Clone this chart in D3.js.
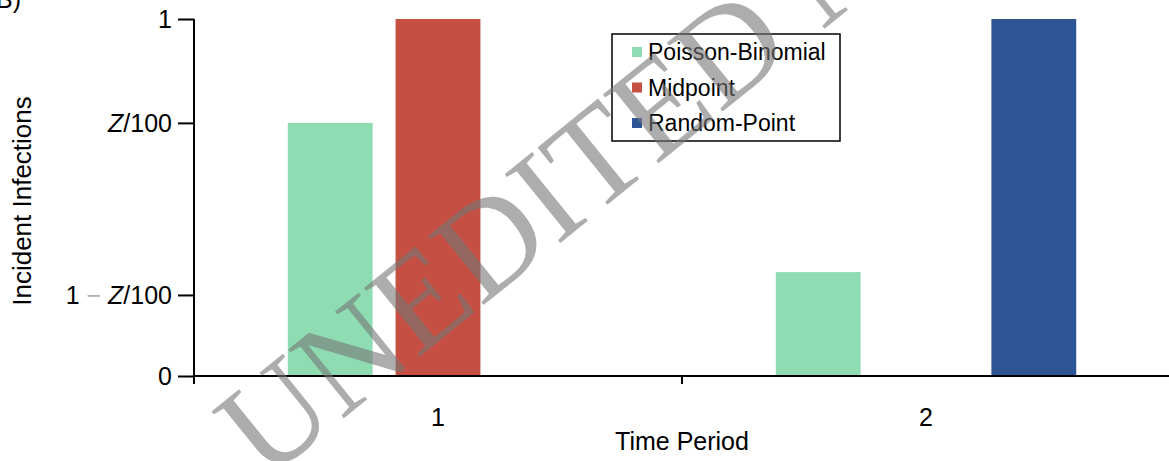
<!DOCTYPE html>
<html>
<head>
<meta charset="utf-8">
<script src="https://cdn.jsdelivr.net/npm/d3@7"></script>
<style>
  body { margin: 0; background: #fff; }
  text { font-family: "Liberation Sans", Arial, sans-serif; fill: #000; }
</style>
</head>
<body>
<div id="canvas"></div>
<script>
"use strict"

/* Data */
let periods = ["1", "2"];
let seriesNames = ["Poisson-Binomial", "Midpoint", "Random-Point"];
// bar heights on a 0..1 schematic scale (Z/100 ~ 0.71)
let poissonBinomial = [0.709, 0.291];
let midpoint = [1, 0];
let randomPoint = [0, 1];
let yTickValues = [0, 0.227, 0.709, 1];
let yTickLabels = ["0", "1 \u2212 Z/100", "Z/100", "1"];

/* Drawing config */
let svgWidth = 1169;
let svgHeight = 461;
let plotLeft = 194, plotRight = 1170, plotTop = 19, plotBottom = 376;
let colors = ["#8fdcb2", "#c44f42", "#2e5596"];

let svg = d3.select("#canvas")
    .append("svg")
    .attr("width", svgWidth)
    .attr("height", svgHeight);

let xScale = d3.scaleBand()
    .domain(periods)
    .range([plotLeft, plotRight])
    .padding(0);

let xSub = d3.scaleBand()
    .domain(seriesNames)
    .range([0, xScale.bandwidth()])
    .paddingInner(0.213)
    .paddingOuter(0.87);

let yScale = d3.scaleLinear()
    .domain([0, 1])
    .range([plotBottom, plotTop]);

let colorScale = d3.scaleOrdinal()
    .domain(seriesNames)
    .range(colors);

// build rows from the arrays
let allSeries = [poissonBinomial, midpoint, randomPoint];
let bars = [];
periods.forEach(function (p, i) {
    seriesNames.forEach(function (s, j) {
        bars.push({ period: p, series: s, value: allSeries[j][i] });
    });
});

svg.selectAll("rect.bar")
    .data(bars.filter(function (d) { return d.value > 0; }))
    .join("rect")
    .attr("class", "bar")
    .attr("x", function (d) { return xScale(d.period) + xSub(d.series); })
    .attr("width", xSub.bandwidth())
    .attr("y", function (d) { return yScale(d.value); })
    .attr("height", function (d) { return yScale(0) - yScale(d.value); })
    .attr("fill", function (d) { return colorScale(d.series); });

/* y axis */
let yAxis = d3.axisLeft(yScale)
    .tickValues(yTickValues)
    .tickSize(16)
    .tickPadding(6)
    .tickSizeOuter(0)
    .tickFormat("");

let yG = svg.append("g")
    .attr("transform", "translate(" + plotLeft + ",0)")
    .call(yAxis);
yG.select(".domain").remove();
yG.selectAll(".tick line").attr("stroke", "#000").attr("stroke-width", 2);

// tick labels with italic Z and grey minus
yG.selectAll(".tick").each(function (d, i) {
    let label = yTickLabels[i];
    let t = d3.select(this).append("text")
        .attr("x", -22)
        .attr("dy", "0.35em")
        .attr("text-anchor", "end")
        .style("font-size", "25px");
    if (label.indexOf("Z") < 0) {
        t.text(label);
        return;
    }
    if (label.indexOf("\u2212") >= 0) {
        t.append("tspan").text("1 ");
        t.append("tspan").style("fill", "#b0b0b0").text("\u2212");
        t.append("tspan").text(" ");
    }
    t.append("tspan").style("font-style", "italic").text("Z");
    t.append("tspan").text("/100");
});

svg.append("line")
    .attr("x1", plotLeft).attr("x2", plotLeft)
    .attr("y1", yScale(1)).attr("y2", yScale(0) + 8)
    .attr("stroke", "#000")
    .attr("stroke-width", 2);

/* x axis */
let xAxis = d3.axisBottom(xScale)
    .tickSize(0)
    .tickSizeOuter(0)
    .tickPadding(32);

let xG = svg.append("g")
    .attr("transform", "translate(0," + plotBottom + ")")
    .call(xAxis);
xG.select(".domain").remove();
xG.selectAll(".tick text")
    .style("font-size", "25px")
    .attr("fill", "#000");

svg.append("line")
    .attr("x1", plotLeft).attr("x2", plotRight)
    .attr("y1", plotBottom).attr("y2", plotBottom)
    .attr("stroke", "#000")
    .attr("stroke-width", 2);

// tick between the two periods
svg.append("line")
    .attr("x1", xScale("2")).attr("x2", xScale("2"))
    .attr("y1", plotBottom).attr("y2", plotBottom + 8)
    .attr("stroke", "#000")
    .attr("stroke-width", 2);

/* axis titles */
svg.append("text")
    .attr("x", xScale("2"))
    .attr("y", 450)
    .attr("text-anchor", "middle")
    .style("font-size", "25px")
    .text("Time Period");

svg.append("text")
    .attr("transform", "translate(31,201) rotate(-90)")
    .attr("text-anchor", "middle")
    .style("font-size", "26px")
    .text("Incident Infections");

// panel letter, cut off at the top-left corner
svg.append("text")
    .attr("x", -4)
    .attr("y", 8)
    .style("font-size", "25px")
    .text("B)");

/* legend */
let legendX = 612, legendY = 34;
svg.append("rect")
    .attr("x", legendX)
    .attr("y", legendY)
    .attr("width", 228)
    .attr("height", 107)
    .attr("fill", "#fff")
    .attr("stroke", "#000")
    .attr("stroke-width", 1.5);

let legendRows = svg.selectAll("g.legend-row")
    .data(seriesNames)
    .join("g")
    .attr("class", "legend-row")
    .attr("transform", function (d, i) {
        return "translate(" + (legendX + 20) + "," + (legendY + 18 + i * 35.5) + ")";
    });

legendRows.append("rect")
    .attr("x", 0)
    .attr("y", -5)
    .attr("width", 10)
    .attr("height", 10)
    .attr("fill", function (d) { return colorScale(d); });

legendRows.append("text")
    .attr("x", 16)
    .attr("dy", "0.35em")
    .style("font-size", "23px")
    .text(function (d) { return d; });

/* watermark, drawn over everything */
svg.append("text")
    .attr("transform", "translate(265,482) rotate(-39)")
    .style("font-family", "'Liberation Serif', 'Times New Roman', serif")
    .style("font-size", "135px")
    .style("fill", "#777")
    .style("opacity", 0.6)
    .text("UNEDITED MANUSCRIPT");
</script>
</body>
</html>
